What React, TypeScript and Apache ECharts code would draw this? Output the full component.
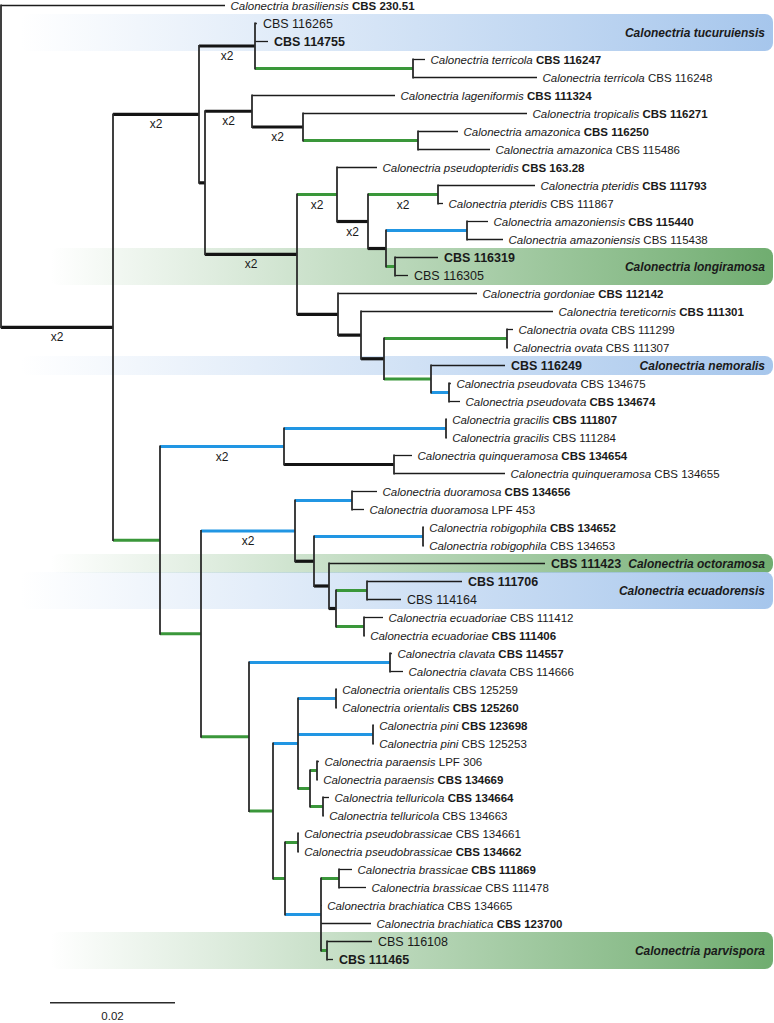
import React, { useEffect, useRef } from 'react';
import * as echarts from 'echarts';

// ---------------- data ----------------
const GENUS = 'Calonectria';

// species epithet for each tip, top to bottom ('' = tip labelled by strain only, inside a clade box)
const epithets: string[] = [
  'brasiliensis', '', '', 'terricola', 'terricola', 'lageniformis', 'tropicalis', 'amazonica', 'amazonica',
  'pseudopteridis', 'pteridis', 'pteridis', 'amazoniensis', 'amazoniensis', '', '', 'gordoniae', 'tereticornis',
  'ovata', 'ovata', '', 'pseudovata', 'pseudovata', 'gracilis', 'gracilis', 'quinqueramosa', 'quinqueramosa',
  'duoramosa', 'duoramosa', 'robigophila', 'robigophila', '', '', '', 'ecuadoriae', 'ecuadoriae', 'clavata',
  'clavata', 'orientalis', 'orientalis', 'pini', 'pini', 'paraensis', 'paraensis', 'telluricola', 'telluricola',
  'pseudobrassicae', 'pseudobrassicae', 'brassicae', 'brassicae', 'brachiatica', 'brachiatica', '', '',
];

const strains: string[] = [
  'CBS 230.51', 'CBS 116265', 'CBS 114755', 'CBS 116247', 'CBS 116248', 'CBS 111324', 'CBS 116271', 'CBS 116250',
  'CBS 115486', 'CBS 163.28', 'CBS 111793', 'CBS 111867', 'CBS 115440', 'CBS 115438', 'CBS 116319', 'CBS 116305',
  'CBS 112142', 'CBS 111301', 'CBS 111299', 'CBS 111307', 'CBS 116249', 'CBS 134675', 'CBS 134674', 'CBS 111807',
  'CBS 111284', 'CBS 134654', 'CBS 134655', 'CBS 134656', 'LPF 453', 'CBS 134652', 'CBS 134653', 'CBS 111423',
  'CBS 111706', 'CBS 114164', 'CBS 111412', 'CBS 111406', 'CBS 114557', 'CBS 114666', 'CBS 125259', 'CBS 125260',
  'CBS 123698', 'CBS 125253', 'LPF 306', 'CBS 134669', 'CBS 134664', 'CBS 134663', 'CBS 134661', 'CBS 134662',
  'CBS 111869', 'CBS 111478', 'CBS 134665', 'CBS 123700', 'CBS 116108', 'CBS 111465',
];

// tips whose strain is an ex-type (printed bold)
const exTypeTips: number[] = [0, 2, 3, 5, 6, 7, 9, 10, 12, 14, 16, 17, 20, 22, 23, 25, 27, 29, 31, 32, 35, 36, 39, 40, 43, 44, 47, 48, 51, 53];

// branches in pre-order: [node, parent, branch length (subst./site), support class]
// support: '' plain, 'k' full support, 'g' green, 'b' blue; suffix '2' = branch shortened (x2)
const branches: [string, string, number, string][] = [
  ['L1', 'root', 0.03584, ''],
  ['A', 'root', 0.01792, 'k2'],
  ['B', 'A', 0.01376, 'k2'],
  ['B1', 'B', 0.00896, 'k2'],
  ['L2', 'B1', 0.0003, ''],
  ['L3', 'B1', 0.00208, ''],
  ['TR', 'B1', 0.02528, 'g'],
  ['L4', 'TR', 0.00192, ''],
  ['L5', 'TR', 0.01984, ''],
  ['B2', 'B', 0.00096, 'k'],
  ['D', 'B2', 0.00752, 'k2'],
  ['L6', 'D', 0.02288, ''],
  ['F', 'D', 0.00816, 'k2'],
  ['L7', 'F', 0.03584, ''],
  ['G', 'F', 0.0184, 'g'],
  ['L8', 'G', 0.0064, ''],
  ['L9', 'G', 0.01152, ''],
  ['E', 'B2', 0.01472, 'k2'],
  ['H', 'E', 0.0064, 'g2'],
  ['L10', 'H', 0.0064, ''],
  ['J', 'H', 0.00496, 'k2'],
  ['K', 'J', 0.0112, 'g2'],
  ['L11', 'K', 0.01552, ''],
  ['L12', 'K', 0.0008, ''],
  ['M0', 'J', 0.00288, 'k'],
  ['M', 'M0', 0.01296, 'b'],
  ['L13', 'M', 0.00336, ''],
  ['L14', 'M', 0.00576, ''],
  ['N', 'M0', 0.00144, 'g'],
  ['L15', 'N', 0.00688, ''],
  ['L16', 'N', 0.00208, ''],
  ['I', 'E', 0.00656, 'k'],
  ['L17', 'I', 0.02224, ''],
  ['O', 'I', 0.00368, 'k'],
  ['L18', 'O', 0.03072, ''],
  ['P', 'O', 0.00368, 'k'],
  ['Q', 'P', 0.01968, 'g'],
  ['L19', 'Q', 0.00096, ''],
  ['L20', 'Q', 0.0001, ''],
  ['R', 'P', 0.00752, 'g'],
  ['L21', 'R', 0.01184, ''],
  ['S', 'R', 0.00288, 'b'],
  ['L22', 'S', 0.0003, ''],
  ['L23', 'S', 0.00176, ''],
  ['C', 'A', 0.00752, 'g'],
  ['T', 'C', 0.01984, 'b2'],
  ['GR', 'T', 0.02592, 'b'],
  ['L24', 'GR', 0.0001, ''],
  ['L25', 'GR', 0.0001, ''],
  ['QU', 'T', 0.0176, 'k'],
  ['L26', 'QU', 0.00288, ''],
  ['L27', 'QU', 0.01776, ''],
  ['U', 'C', 0.00656, 'g'],
  ['V', 'U', 0.01504, 'b2'],
  ['DU', 'V', 0.00912, 'b'],
  ['L28', 'DU', 0.004, ''],
  ['L29', 'DU', 0.00192, ''],
  ['X', 'V', 0.00304, 'k'],
  ['RO', 'X', 0.01744, 'b'],
  ['L30', 'RO', 0.0001, ''],
  ['L31', 'RO', 0.0001, ''],
  ['Y', 'X', 0.0024, 'k'],
  ['L32', 'Y', 0.03456, ''],
  ['Z', 'Y', 0.00112, 'k'],
  ['EC', 'Z', 0.00496, 'g'],
  ['L33', 'EC', 0.0152, ''],
  ['L34', 'EC', 0.00544, ''],
  ['ED', 'Z', 0.00448, 'g'],
  ['L35', 'ED', 0.00304, ''],
  ['L36', 'ED', 0.0001, ''],
  ['W', 'U', 0.00768, 'g'],
  ['CL', 'W', 0.02256, 'b'],
  ['L37', 'CL', 0.0003, ''],
  ['L38', 'CL', 0.00208, ''],
  ['AA', 'W', 0.00384, 'g'],
  ['AB', 'AA', 0.004, 'b'],
  ['OR', 'AB', 0.00608, 'b'],
  ['L39', 'OR', 0.0001, ''],
  ['L40', 'OR', 0.0001, ''],
  ['PI', 'AB', 0.012, 'b'],
  ['L41', 'PI', 0.0001, ''],
  ['L42', 'PI', 0.0001, ''],
  ['AD', 'AB', 0.00192, 'g'],
  ['PA', 'AD', 0.00112, 'g'],
  ['L43', 'PA', 0.0003, ''],
  ['L44', 'PA', 0.0001, ''],
  ['TE', 'AD', 0.00208, 'g'],
  ['L45', 'TE', 0.00096, ''],
  ['L46', 'TE', 0.0001, ''],
  ['AC', 'AA', 0.00192, 'g'],
  ['PB', 'AC', 0.00208, 'g'],
  ['L47', 'PB', 0.0001, ''],
  ['L48', 'PB', 0.0001, ''],
  ['AE', 'AC', 0.00576, 'b'],
  ['BR', 'AE', 0.00288, 'g'],
  ['L49', 'BR', 0.00208, ''],
  ['L50', 'BR', 0.00432, ''],
  ['L51', 'AE', 0.0001, ''],
  ['L52', 'AE', 0.008, ''],
  ['PV', 'AE', 0.00096, 'g'],
  ['L53', 'PV', 0.0072, ''],
  ['L54', 'PV', 0.00096, ''],
];

// highlighted species: [name, first tip, last tip, colour key]
const clades: [string, number, number, string][] = [
  ['Calonectria tucuruiensis', 1, 2, 'blue'],
  ['Calonectria longiramosa', 14, 15, 'green'],
  ['Calonectria nemoralis', 20, 20, 'blue'],
  ['Calonectria octoramosa', 31, 31, 'green'],
  ['Calonectria ecuadorensis', 32, 33, 'blue'],
  ['Calonectria parvispora', 52, 53, 'green'],
];

const scaleBarLength = 0.02;
const scaleBarLabel = '0.02';

// ---------------- styles / layout constants ----------------
const W = 774;
const H = 1023;
const PX_PER_UNIT = 6250; // horizontal scale
const ROW_PX = 18;
const FONT = '"Liberation Sans", Arial, Helvetica, sans-serif';
const TEXT = '#1a1a1a';
const STYLE_KEYS = ['', 'k', 'g', 'b', 'v'];
const STYLES = [
  { color: '#1c1c1c', width: 1.3, cap: 'butt' },
  { color: '#141414', width: 3.2, cap: 'butt' },
  { color: '#3a973a', width: 3, cap: 'butt' },
  { color: '#2196e3', width: 3, cap: 'butt' },
  { color: '#2b2b2b', width: 1.8, cap: 'square' },
];
const CLADE_COLORS: Record<string, { rgb: string; x0: number }> = {
  blue: { rgb: '166,198,236', x0: 20 },
  green: { rgb: '112,173,112', x0: 50 },
};

type TNode = { id: string; parent: string; len: number; sup: string; children: string[]; x: number; y: number };

function buildTree() {
  const nodes: Record<string, TNode> = {
    root: { id: 'root', parent: '', len: 0, sup: '', children: [], x: 0, y: 0 },
  };
  for (const [id, parent, len, sup] of branches) {
    nodes[id] = { id, parent, len, sup, children: [], x: 0, y: 0 };
    nodes[parent].children.push(id);
  }
  const place = (id: string, x: number) => {
    const n = nodes[id];
    n.x = x;
    if (!n.children.length) {
      n.y = parseInt(id.slice(1), 10) - 1;
      return;
    }
    n.children.forEach((c) => place(c, x + nodes[c].len));
    n.y = (nodes[n.children[0]].y + nodes[n.children[n.children.length - 1]].y) / 2;
  };
  place('root', 0);
  return nodes;
}

export default function App() {
  const ref = useRef<HTMLDivElement>(null);

  useEffect(() => {
    if (!ref.current) return;
    const chart = echarts.init(ref.current, undefined, { renderer: 'svg', width: W, height: H });
    const nodes = buildTree();
    const ids = Object.keys(nodes);

    const hSegs: number[][] = [];
    const vSegs: number[][] = [];
    const halved: number[][] = [];
    const tips: number[][] = [];
    ids.forEach((id) => {
      const n = nodes[id];
      if (id !== 'root') {
        const p = nodes[n.parent];
        const key = n.sup.replace('2', '');
        hSegs.push([p.x, n.y, n.x, n.y, STYLE_KEYS.indexOf(key)]);
        if (n.sup.endsWith('2')) halved.push([(p.x + n.x) / 2, n.y]);
      }
      if (n.children.length) {
        const a = nodes[n.children[0]];
        const b = nodes[n.children[n.children.length - 1]];
        vSegs.push([n.x, a.y, n.x, b.y, 4]);
      } else {
        const leaf = parseInt(id.slice(1), 10) - 1;
        tips.push([n.x, n.y, leaf]);
      }
    });

    const xMin = -1 / PX_PER_UNIT;
    const xMax = xMin + W / PX_PER_UNIT;
    const yMin = -5.5 / ROW_PX;
    const yMax = yMin + H / ROW_PX;

    const segRender = (_p: any, api: any) => {
      const a = api.coord([api.value(0), api.value(1)]);
      const b = api.coord([api.value(2), api.value(3)]);
      const st = STYLES[api.value(4)];
      return {
        type: 'line',
        shape: { x1: a[0], y1: a[1], x2: b[0], y2: b[1] },
        style: { stroke: st.color, lineWidth: st.width, lineCap: st.cap },
      };
    };

    const rich = {
      i: { fontStyle: 'italic', fontSize: 11.5, fontFamily: FONT, fill: TEXT },
      b: { fontWeight: 'bold', fontSize: 11.5, fontFamily: FONT, fill: TEXT },
      n: { fontSize: 11.5, fontFamily: FONT, fill: TEXT },
      cb: { fontWeight: 'bold', fontSize: 12.5, fontFamily: FONT, fill: TEXT },
      cn: { fontSize: 12.5, fontFamily: FONT, fill: TEXT },
    };

    const option: any = {
      animation: false,
      grid: { left: 0, top: 0, width: W, height: H, containLabel: false },
      xAxis: { type: 'value', min: xMin, max: xMax, show: false },
      yAxis: { type: 'value', min: yMin, max: yMax, inverse: true, show: false },
      series: [
        {
          type: 'custom',
          name: 'clades',
          z: 1,
          clip: false,
          data: clades.map((c, i) => [c[1], c[2], i]),
          renderItem: (_p: any, api: any) => {
            const c = clades[api.value(2)];
            const col = CLADE_COLORS[c[3]];
            const top = api.coord([0, api.value(0) - 0.53])[1];
            const bot = api.coord([0, api.value(1) + 0.53])[1];
            const right = api.getWidth() - 1;
            return {
              type: 'group',
              children: [
                {
                  type: 'rect',
                  shape: { x: col.x0, y: top, width: right - col.x0, height: bot - top, r: 8 },
                  style: {
                    fill: new echarts.graphic.LinearGradient(0, 0, 1, 0, [
                      { offset: 0, color: `rgba(${col.rgb},0)` },
                      { offset: 1, color: `rgba(${col.rgb},1)` },
                    ]),
                  },
                },
                {
                  type: 'text',
                  x: right - 8,
                  y: (top + bot) / 2,
                  style: {
                    text: c[0],
                    align: 'right',
                    verticalAlign: 'middle',
                    fontFamily: FONT,
                    fontSize: 12,
                    fontStyle: 'italic',
                    fontWeight: 'bold',
                    fill: TEXT,
                  },
                },
              ],
            };
          },
        },
        {
          type: 'custom',
          name: 'branches',
          z: 2,
          clip: false,
          encode: { x: [0, 2], y: [1, 3] },
          data: hSegs,
          renderItem: segRender,
        },
        {
          type: 'custom',
          name: 'connectors',
          z: 3,
          clip: false,
          encode: { x: [0, 2], y: [1, 3] },
          data: vSegs,
          renderItem: segRender,
        },
        {
          type: 'custom',
          name: 'halved',
          z: 4,
          clip: false,
          data: halved,
          renderItem: (_p: any, api: any) => {
            const a = api.coord([api.value(0), api.value(1)]);
            return {
              type: 'text',
              x: a[0],
              y: a[1] + 10,
              style: { text: 'x2', align: 'center', verticalAlign: 'middle', fontFamily: FONT, fontSize: 12, fill: TEXT },
            };
          },
        },
        {
          type: 'custom',
          name: 'tips',
          z: 5,
          clip: false,
          data: tips,
          renderItem: (_p: any, api: any) => {
            const a = api.coord([api.value(0), api.value(1)]);
            const k = api.value(2);
            const bold = exTypeTips.includes(k);
            const ep = epithets[k];
            const text = ep
              ? `{i|${GENUS} ${ep}} {${bold ? 'b' : 'n'}|${strains[k]}}`
              : `{${bold ? 'cb' : 'cn'}|${strains[k]}}`;
            return {
              type: 'text',
              x: a[0] + (ep ? 5.5 : 6),
              y: a[1],
              style: {
                text,
                rich,
                align: 'left',
                verticalAlign: 'middle',
                fontFamily: FONT,
                fontSize: 11.5,
                fill: TEXT,
              },
            };
          },
        },
        {
          type: 'custom',
          name: 'scale',
          z: 5,
          clip: false,
          data: [[0.00784, 55.4, scaleBarLength]],
          renderItem: (_p: any, api: any) => {
            const a = api.coord([api.value(0), api.value(1)]);
            const b = api.coord([api.value(0) + api.value(2), api.value(1)]);
            return {
              type: 'group',
              children: [
                {
                  type: 'line',
                  shape: { x1: a[0], y1: a[1], x2: b[0], y2: b[1] },
                  style: { stroke: '#2b2b2b', lineWidth: 1.5 },
                },
                {
                  type: 'text',
                  x: (a[0] + b[0]) / 2,
                  y: a[1] + 13,
                  style: {
                    text: scaleBarLabel,
                    align: 'center',
                    verticalAlign: 'middle',
                    fontFamily: FONT,
                    fontSize: 11.5,
                    fill: TEXT,
                  },
                },
              ],
            };
          },
        },
      ],
    };

    chart.setOption(option);
    return () => chart.dispose();
  }, []);

  return (
    <div
      ref={ref}
      style={{ position: 'fixed', left: 0, top: 0, width: W, height: H, background: '#ffffff' }}
    />
  );
}
